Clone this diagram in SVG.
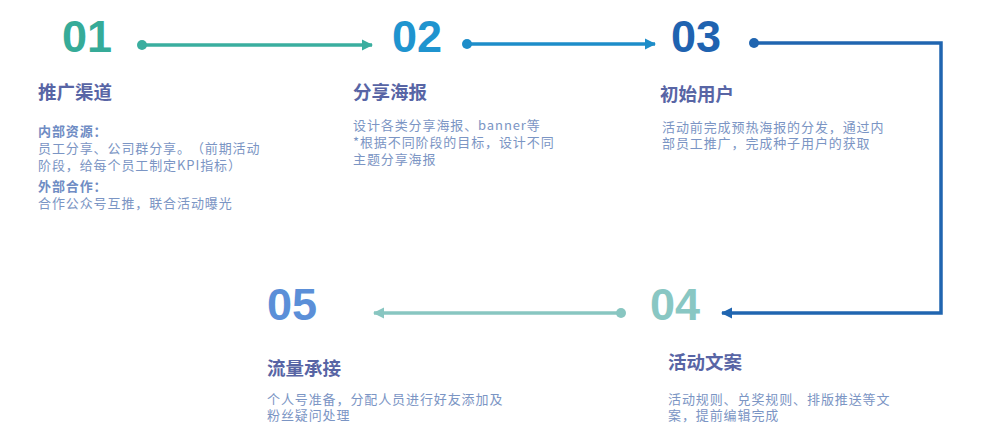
<svg xmlns="http://www.w3.org/2000/svg" width="986" height="443" viewBox="0 0 986 443">
<defs>
<style>
.num{font-family:"Liberation Sans",Arial,sans-serif;font-weight:bold;font-size:45px}
.ttl{font-family:"Noto Sans CJK SC","Noto Sans",sans-serif;font-weight:bold;font-size:18.5px;fill:#5865a5}
.txt{font-family:"Noto Sans CJK SC","Noto Sans",sans-serif;font-size:13px;letter-spacing:0.9px;fill:#7b95c4;text-spacing-trim:space-all}
.sub{font-family:"Noto Sans CJK SC","Noto Sans",sans-serif;font-size:13px;letter-spacing:0.9px;font-weight:bold;fill:#6f8cc4}
.ln{fill:none;stroke-width:3.5}
</style>
<marker id="a1" viewBox="0 0 10 10" refX="9" refY="5" markerWidth="3.2" markerHeight="3.2" orient="auto" markerUnits="strokeWidth"><path d="M0,0 L10,5 L0,10 Z" fill="#3aae9f"/></marker>
<marker id="a2" viewBox="0 0 10 10" refX="9" refY="5" markerWidth="3.2" markerHeight="3.2" orient="auto" markerUnits="strokeWidth"><path d="M0,0 L10,5 L0,10 Z" fill="#1d8dc9"/></marker>
<marker id="a3" viewBox="0 0 10 10" refX="9" refY="5" markerWidth="3.2" markerHeight="3.2" orient="auto" markerUnits="strokeWidth"><path d="M0,0 L10,5 L0,10 Z" fill="#2065b0"/></marker>
<marker id="a4" viewBox="0 0 10 10" refX="9" refY="5" markerWidth="3.2" markerHeight="3.2" orient="auto" markerUnits="strokeWidth"><path d="M0,0 L10,5 L0,10 Z" fill="#88c6c1"/></marker>
</defs>
<rect width="986" height="443" fill="#ffffff"/>
<g id="connectors">
<circle cx="142" cy="45" r="5" fill="#3aae9f"/>
<path class="ln" d="M142,45 H372" stroke="#3aae9f" marker-end="url(#a1)"/>
<circle cx="467" cy="44" r="5" fill="#1d8dc9"/>
<path class="ln" d="M467,44 H655" stroke="#1d8dc9" marker-end="url(#a2)"/>
<circle cx="754" cy="43" r="5" fill="#2065b0"/>
<path class="ln" d="M754,43 H941 V313 H722" stroke="#2065b0" marker-end="url(#a3)"/>
<circle cx="621" cy="313" r="5" fill="#88c6c1"/>
<path class="ln" d="M621,313 H374" stroke="#88c6c1" marker-end="url(#a4)"/>
</g>
<g id="node01">
<text class="num" x="62" y="52" fill="#36ab98">01</text>
<text class="ttl" x="38" y="99">推广渠道</text>
<text class="sub" x="38" y="136">内部资源：</text>
<text class="txt" x="38" y="153">员工分享、公司群分享。（前期活动</text>
<text class="txt" x="38" y="170">阶段，给每个员工制定KPI指标）</text>
<text class="sub" x="38" y="191">外部合作：</text>
<text class="txt" x="38" y="208">合作公众号互推，联合活动曝光</text>
</g>
<g id="node02">
<text class="num" x="392" y="52" fill="#1f94cf">02</text>
<text class="ttl" x="353" y="99">分享海报</text>
<text class="txt" x="353" y="130">设计各类分享海报、banner等</text>
<text class="txt" x="353" y="147">*根据不同阶段的目标，设计不同</text>
<text class="txt" x="353" y="164">主题分享海报</text>
</g>
<g id="node03">
<text class="num" x="671" y="52" fill="#1f63b0">03</text>
<text class="ttl" x="660" y="101">初始用户</text>
<text class="txt" x="662" y="132">活动前完成预热海报的分发，通过内</text>
<text class="txt" x="662" y="148">部员工推广，完成种子用户的获取</text>
</g>
<g id="node04">
<text class="num" x="650" y="320" fill="#89c7c3">04</text>
<text class="ttl" x="668" y="369">活动文案</text>
<text class="txt" x="668" y="404">活动规则、兑奖规则、排版推送等文</text>
<text class="txt" x="668" y="420">案，提前编辑完成</text>
</g>
<g id="node05">
<text class="num" x="267" y="320" fill="#5b8fd8">05</text>
<text class="ttl" x="267" y="375">流量承接</text>
<text class="txt" x="267" y="404">个人号准备，分配人员进行好友添加及</text>
<text class="txt" x="267" y="420">粉丝疑问处理</text>
</g>
</svg>
